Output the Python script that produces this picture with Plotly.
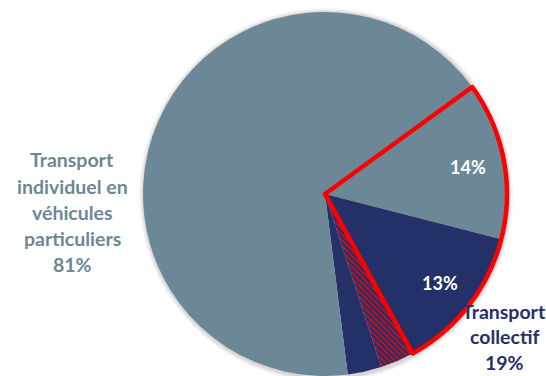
import math
import plotly.graph_objects as go

# Modal split of trips, in percent
segments = ["Individuel - zone", "Collectif - zone", "Collectif - zone partielle",
            "Collectif - hors zone", "Individuel - hors zone"]
shares = [14, 13, 3, 3, 67]
inside_text = ["14%", "13%", "", "", ""]
highlighted = 2  # number of leading segments inside the outlined zone

individual_label = ["Transport", "individuel en", "véhicules", "particuliers", "81%"]
collective_label = ["Transport", "collectif", "19%"]

GREY = "#6c8896"
NAVY = "#243168"
RED = "#ff0000"

W, H = 546, 376
CX, CY, R = 325, 194, 182  # pie centre and radius in pixels
ROTATION = 54

dom_x = [(CX - R) / W, (CX + R) / W]
dom_y = [(H - CY - R) / H, (H - CY + R) / H]

fig = go.Figure()

fig.add_trace(go.Pie(
    labels=segments,
    values=shares,
    sort=False,
    direction="clockwise",
    rotation=ROTATION,
    domain=dict(x=dom_x, y=dom_y),
    marker=dict(
        colors=[GREY, NAVY, NAVY, NAVY, GREY],
        line=dict(width=0),
        pattern=dict(shape=["", "", "\\", "", ""], fgcolor=RED, bgcolor=NAVY,
                     size=4, solidity=0.3),
    ),
    textinfo="none",
    hoverinfo="skip",
    showlegend=False,
))

# Red outline around the highlighted zone
zone = sum(shares[:highlighted])
fig.add_trace(go.Pie(
    labels=["zone", "reste"],
    values=[zone, sum(shares) - zone],
    sort=False,
    direction="clockwise",
    rotation=ROTATION,
    domain=dict(x=dom_x, y=dom_y),
    marker=dict(colors=["rgba(0,0,0,0)", "rgba(0,0,0,0)"],
                line=dict(color=[RED, "rgba(0,0,0,0)"], width=[4.5, 0])),
    textinfo="none",
    hoverinfo="skip",
    showlegend=False,
))

# Soft shadow behind the pie
shapes = []
for grow, alpha in [(5, 0.04), (3.5, 0.05), (2, 0.07)]:
    shapes.append(dict(type="circle", xref="paper", yref="paper", layer="below",
                       x0=(CX + 1 - R - grow) / W, x1=(CX + 1 + R + grow) / W,
                       y0=1 - (CY + 1 + R + grow) / H, y1=1 - (CY + 1 - R - grow) / H,
                       fillcolor=f"rgba(0,0,0,{alpha})", line=dict(width=0)))

annotations = []
total = sum(shares)
cum = 0
for v, t in zip(shares, inside_text):
    if t:
        ang = math.radians(ROTATION + (cum + v / 2) / total * 360)
        px = CX + 0.8 * R * math.sin(ang)
        py = CY - 0.8 * R * math.cos(ang)
        annotations.append(dict(x=px / W, y=1 - py / H, xref="paper", yref="paper",
                                text=t, showarrow=False,
                                font=dict(family="Lato", size=18, color="white", weight="bold"),
                                xanchor="center", yanchor="middle"))
    cum += v

for i, line in enumerate(individual_label):
    annotations.append(dict(x=72 / W, y=1 - (160 + 26 * i) / H, xref="paper", yref="paper",
                            text=line, showarrow=False,
                            font=dict(family="Lato", size=19.5, color=GREY, weight="bold"),
                            xanchor="center", yanchor="middle"))

for i, line in enumerate(collective_label):
    annotations.append(dict(x=504 / W, y=1 - (311 + 25.5 * i) / H, xref="paper", yref="paper",
                            text=line, showarrow=False,
                            font=dict(family="Lato", size=19.5, color=NAVY, weight="bold"),
                            xanchor="center", yanchor="middle"))

fig.update_layout(
    width=W, height=H,
    margin=dict(l=0, r=0, t=0, b=0),
    paper_bgcolor="white",
    plot_bgcolor="white",
    shapes=shapes,
    annotations=annotations,
)

fig.write_html("out.html")
